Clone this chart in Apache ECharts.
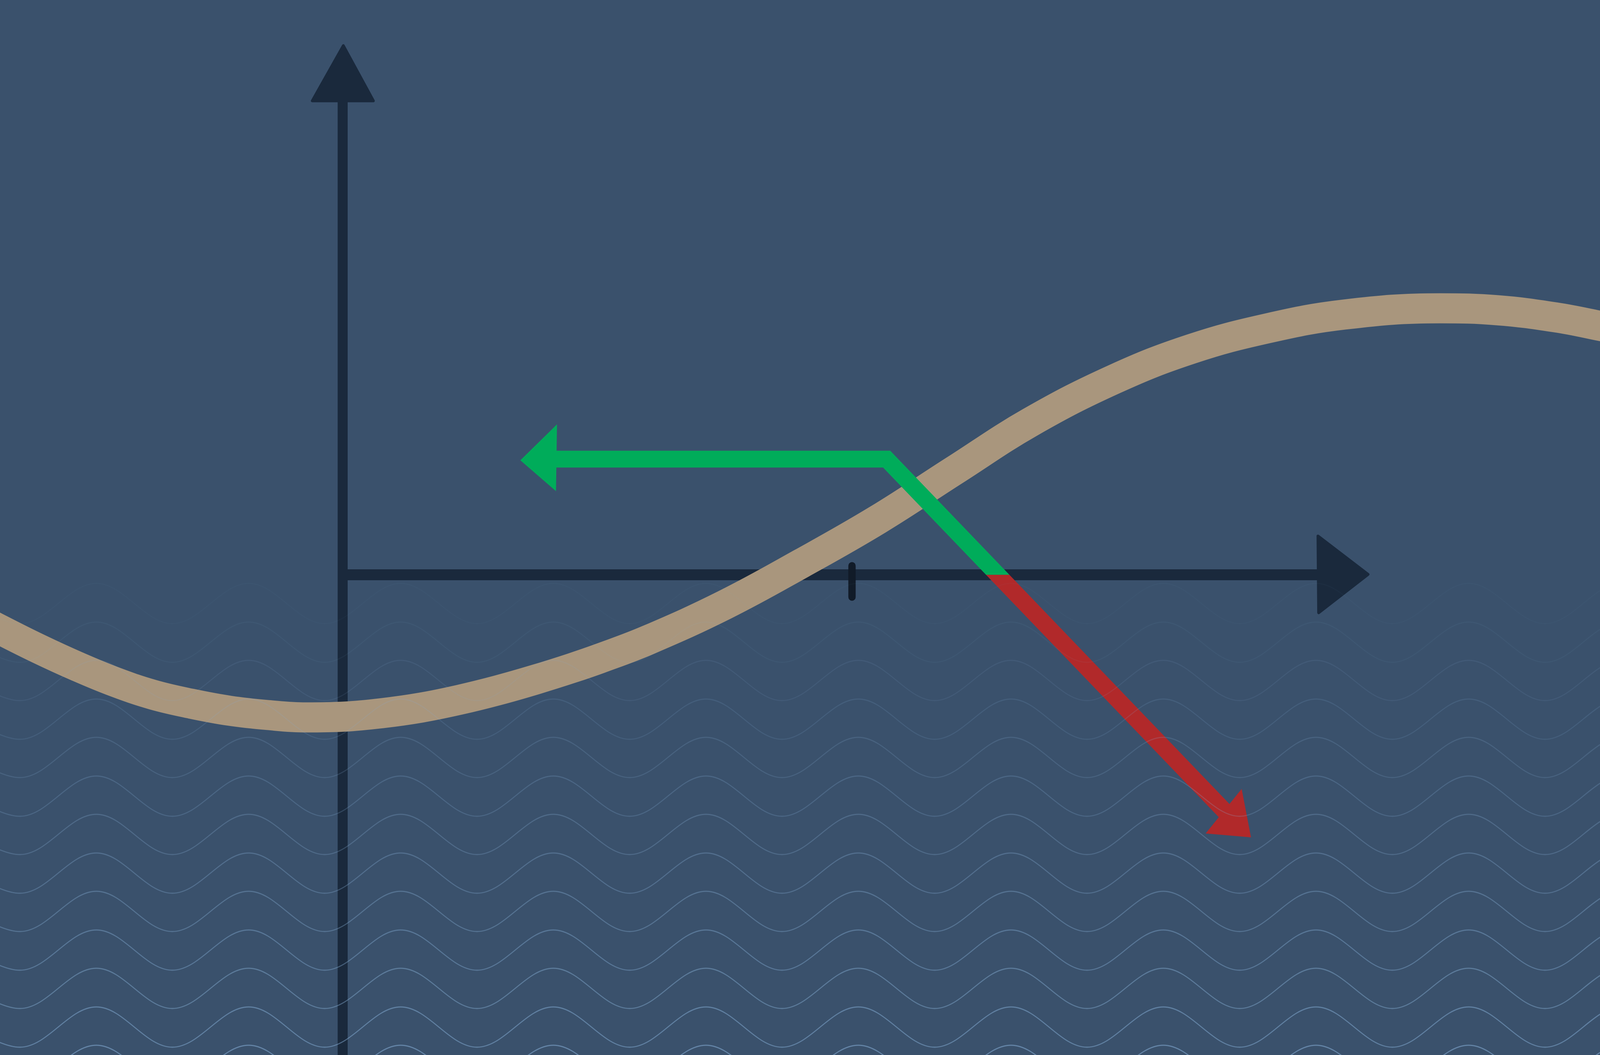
<!DOCTYPE html>
<html>
<head>
<meta charset="utf-8">
<script src="https://cdn.jsdelivr.net/npm/echarts@6/dist/echarts.min.js"></script>
<style>
  html, body { margin: 0; padding: 0; background: #3a516c; overflow: hidden; width: 100%; height: 100%; }
  #chart { width: 100vw; height: 100vh; }
</style>
</head>
<body>
<div id="chart"></div>
<script>
// ---------- data (plot units: x 0..4800, y 0..2700 downward) ----------
// tan curve centreline, read along the band
const curveX = [-120, 0, 115, 230, 344, 459, 574, 689, 804, 918, 1033, 1148, 1263, 1378, 1492, 1607, 1715, 1800, 1944, 2174, 2404, 2633, 2863, 3092, 3344, 3574, 3804, 4033, 4320, 4492, 4665, 4800, 4920];
const curveY = [1557, 1611, 1660, 1705, 1745, 1778, 1801, 1819, 1830, 1836, 1834, 1825, 1811, 1791, 1767, 1739, 1710, 1685, 1638, 1548, 1442, 1330, 1204, 1080, 970, 893, 840, 805, 789, 794, 812, 834, 856];

// green -> red arrow path (colour switches at the horizontal axis)
const arrowX = [1665, 2660, 3682];
const arrowY = [1175, 1175, 2083];
const axisLevel = 1471;

// axes
const vAxisX = [1028, 1028];
const vAxisY = [2700, 252];
const hAxisX = [1028, 3962];
const hAxisY = [1471, 1471];
const tickX = [2556, 2556];
const tickY = [1448, 1528];

// arrow heads (triangles: 3 vertices each)
const headUp    = [[1030, 117], [937, 258], [1120, 258]];
const headRight = [[3954, 1372], [4104, 1470], [3956, 1568]];
const headGreen = [[1671, 1086], [1561, 1178], [1668, 1257]];
const headRed   = [[3725, 2019], [3753, 2143], [3617, 2133]];

// background wave pattern
const waveX = [-170, 60, 289, 517, 746, 974, 1202, 1431, 1660, 1889, 2118, 2346, 2575, 2804, 3033, 3261, 3490, 3719, 3948, 4177, 4406, 4635, 4864, 5093];
const waveRowTop = [1394, 1493, 1592, 1690, 1789, 1887, 1986, 2084, 2183, 2281, 2380, 2478, 2577, 2675];
const waveRowOpacity = [0.0, 0.03, 0.06, 0.1, 0.14, 0.18, 0.22, 0.26, 0.3, 0.34, 0.38, 0.42, 0.47, 0.52];
const waveDepth = 103;

// ---------- colours ----------
const BG = '#3a516c';
const AXIS = '#1a293c';
const TAN = '#a9967d';
const GREEN = '#00ac5a';
const RED = '#b1292a';
const WAVE = '#8ab3da';

// ---------- stroke scaling to the actual canvas size ----------
const el = document.getElementById('chart');
const sx = (el.clientWidth || 4800) / 4800;
const sy = (el.clientHeight || 2700) / 2700;
const sm = (sx + sy) / 2;

// ---------- helpers ----------
const zip = (xs, ys) => xs.map((x, i) => [x, ys[i]]);
const flat = tri => tri.reduce((a, p) => a.concat(p), []);

function triSeries(tris, color, strokeW, z) {
  return {
    type: 'custom',
    coordinateSystem: 'cartesian2d',
    z: z,
    silent: true,
    clip: false,
    animation: false,
    encode: { x: [0, 2, 4], y: [1, 3, 5] },
    data: tris.map(flat),
    renderItem: function (params, api) {
      const pts = [0, 1, 2].map(i => api.coord([api.value(2 * i), api.value(2 * i + 1)]));
      return {
        type: 'polygon',
        shape: { points: pts },
        style: { fill: color, stroke: strokeW ? color : null, lineWidth: strokeW, lineJoin: 'round' }
      };
    }
  };
}

function lineSeries(data, color, width, z, extra) {
  return Object.assign({
    type: 'line',
    data: data,
    z: z,
    silent: true,
    symbol: 'none',
    showSymbol: false,
    animation: false,
    lineStyle: { color: color, width: width, cap: 'butt', join: 'round' }
  }, extra || {});
}

const series = [];
// axes
series.push(lineSeries(zip(vAxisX, vAxisY), AXIS, 30 * sx, 1));
series.push(lineSeries(zip(hAxisX, hAxisY), AXIS, 28 * sy, 1));
series.push(triSeries([headUp, headRight], AXIS, 8 * sm, 1));
series.push(lineSeries(zip(tickX, tickY), '#111b28', 22 * sx, 2, { lineStyle: { color: '#111b28', width: 22 * sx, cap: 'round' } }));
// tan curve
series.push(lineSeries(zip(curveX, curveY), TAN, 77 * sy, 3, { smooth: 0.4 }));
// arrow path: one polyline, green above the axis, red below
series.push({
  type: 'custom',
  coordinateSystem: 'cartesian2d',
  z: 4,
  silent: true,
  clip: false,
  animation: false,
  encode: { x: [0, 2, 4], y: [1, 3, 5] },
  data: [flat(zip(arrowX, arrowY))],
  renderItem: function (params, api) {
    const pts = [0, 1, 2].map(i => api.coord([api.value(2 * i), api.value(2 * i + 1)]));
    const ySplit = api.coord([0, axisLevel])[1];
    const w = 43 * sy;
    const grad = new echarts.graphic.LinearGradient(0, ySplit - 0.5, 0, ySplit + 0.5, [
      { offset: 0, color: GREEN }, { offset: 0.5, color: GREEN },
      { offset: 0.5, color: RED }, { offset: 1, color: RED }
    ], true);
    return {
      type: 'polyline',
      shape: { points: pts },
      style: { stroke: grad, fill: null, lineWidth: w, lineJoin: 'miter', lineCap: 'butt', miterLimit: 10 }
    };
  }
});
series.push(triSeries([headGreen], GREEN, 0, 4));
series.push(triSeries([headRed], RED, 0, 4));
// wave pattern on top
waveRowTop.forEach((top, r) => {
  const data = waveX.map((x, i) => [x, i % 2 === 0 ? top : top + waveDepth]);
  series.push(lineSeries(data, WAVE, 3 * sm, 5, {
    smooth: 0.36,
    lineStyle: { color: WAVE, width: 3 * sm, opacity: waveRowOpacity[r] }
  }));
});

const chart = echarts.init(el, null, { renderer: 'canvas' });
chart.setOption({
  backgroundColor: BG,
  animation: false,
  grid: { left: 0, right: 0, top: 0, bottom: 0, containLabel: false },
  xAxis: { type: 'value', min: 0, max: 4800, show: false },
  yAxis: { type: 'value', min: 0, max: 2700, inverse: true, show: false },
  tooltip: { show: false },
  series: series
});
window.addEventListener('resize', () => chart.resize());
</script>
</body>
</html>
